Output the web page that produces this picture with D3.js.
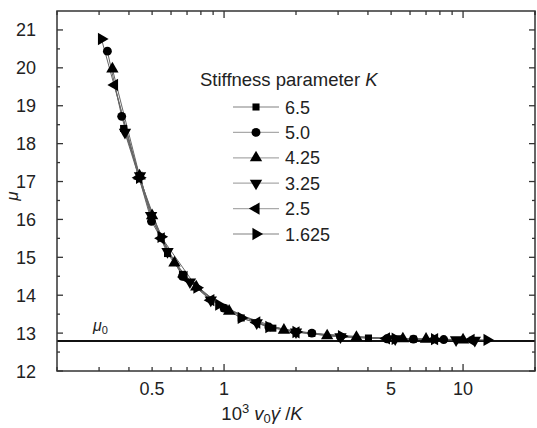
<!DOCTYPE html>
<html>
<head>
<meta charset="utf-8">
<script src="https://cdn.jsdelivr.net/npm/d3@7"></script>
<style>
  body { margin: 0; background: #fff; }
  svg { display: block; font-family: "Liberation Sans", Arial, sans-serif; }
</style>
</head>
<body>
<svg id="chart" width="537" height="428"></svg>
<script>
// Stiffness parameter K for each series
var kLabels = ["6.5", "5.0", "4.25", "3.25", "2.5", "1.625"];
var kShapes = ["square", "circle", "up", "down", "left", "right"];

// x = 10^3 v0 gamma-dot / K, y = mu
var x65 = [0.38, 0.497, 0.58, 0.67, 1.0, 1.18, 1.6, 2.33, 4.02, 6.2];
var y65 = [18.4, 16.05, 15.1, 14.55, 13.66, 13.4, 13.13, 12.99, 12.87, 12.84];
var x50 = [0.325, 0.373, 0.497, 0.67, 1.0, 1.54, 2.33, 3.07, 4.8, 6.2, 8.3];
var y50 = [20.44, 18.72, 15.95, 14.5, 13.66, 13.16, 13.0, 12.9, 12.85, 12.84, 12.83];
var x425 = [0.341, 0.443, 0.50, 0.62, 0.765, 1.05, 1.78, 2.7, 3.58, 5.6, 7.0, 10.0];
var y425 = [19.97, 17.15, 16.1, 14.85, 14.22, 13.58, 13.08, 12.93, 12.89, 12.85, 12.84, 12.82];
var x325 = [0.385, 0.445, 0.495, 0.58, 0.72, 0.88, 1.37, 2.0, 3.07, 5.2, 9.35, 11.2];
var y325 = [18.3, 17.15, 16.1, 15.15, 14.35, 13.87, 13.27, 13.03, 12.9, 12.85, 12.82, 12.81];
var x25 = [0.348, 0.44, 0.546, 0.68, 0.88, 1.37, 2.0, 4.78, 7.6, 10.8];
var y25 = [19.55, 17.1, 15.5, 14.48, 13.87, 13.28, 13.02, 12.86, 12.84, 12.82];
var x1625 = [0.307, 0.443, 0.545, 0.77, 0.95, 1.18, 1.54, 2.0, 3.1, 5.2, 7.6, 12.6];
var y1625 = [20.76, 17.1, 15.54, 14.2, 13.75, 13.4, 13.16, 13.03, 12.92, 12.85, 12.84, 12.82];

var seriesX = [x65, x50, x425, x325, x25, x1625];
var seriesY = [y65, y50, y425, y325, y25, y1625];

var mu0 = 12.79;
var xTickLabels = [0.5, 1, 5, 10];
var yTickValues = [12, 13, 14, 15, 16, 17, 18, 19, 20, 21];

var svg = d3.select("#chart");
var pLeft = 57, pRight = 535, pTop = 11, pBottom = 371;

var x = d3.scaleLog().domain([0.2, 20]).range([pLeft, pRight]);
var y = d3.scaleLinear().domain([12, 21.5]).range([pBottom, pTop]);

// tick lists for the log axis
var xTicks = [];
[0.1, 1, 10].forEach(function(dec) {
  for (var i = 1; i < 10; i++) {
    var v = +(dec * i).toPrecision(3);
    if (v >= 0.2 && v <= 20) xTicks.push(v);
  }
});
xTicks.push(20);
var yMinor = d3.range(12.5, 21.5, 1);

var axisColor = "#333";

function symbolPath(shape) {
  var type = shape === "square" ? d3.symbolSquare
    : shape === "circle" ? d3.symbolCircle : d3.symbolTriangle;
  var size = shape === "square" ? 50 : shape === "circle" ? 62 : 66;
  return d3.symbol().type(type).size(size)();
}
function rotation(shape) {
  return { down: 180, left: -90, right: 90 }[shape] || 0;
}

// mu0 reference line
svg.append("line")
  .attr("x1", pLeft).attr("x2", pRight)
  .attr("y1", y(mu0)).attr("y2", y(mu0))
  .attr("stroke", "#111").attr("stroke-width", 2);

var mu0Label = svg.append("text")
  .attr("x", 93).attr("y", 331)
  .attr("font-size", 16).attr("fill", "#222");
mu0Label.append("tspan").attr("font-style", "italic").text("μ");
mu0Label.append("tspan").attr("font-size", 11).attr("dy", 3).text("0");

// series
var line = d3.line().x(function(d) { return x(d[0]); }).y(function(d) { return y(d[1]); });

seriesX.forEach(function(xs, s) {
  var pts = xs.map(function(v, i) { return [v, seriesY[s][i]]; });
  svg.append("path")
    .datum(pts)
    .attr("d", line)
    .attr("fill", "none")
    .attr("stroke", "#666")
    .attr("stroke-width", 1);
});
seriesX.forEach(function(xs, s) {
  var pts = xs.map(function(v, i) { return [v, seriesY[s][i]]; });
  svg.append("g").selectAll("path")
    .data(pts)
    .enter().append("path")
    .attr("d", symbolPath(kShapes[s]))
    .attr("transform", function(d) {
      return "translate(" + x(d[0]) + "," + y(d[1]) + ") rotate(" + rotation(kShapes[s]) + ")";
    })
    .attr("fill", "#000");
});

// frame
svg.append("rect")
  .attr("x", pLeft).attr("y", pTop)
  .attr("width", pRight - pLeft).attr("height", pBottom - pTop)
  .attr("fill", "none").attr("stroke", axisColor).attr("stroke-width", 1.5);

// ticks, all pointing inward
var g = svg.append("g").attr("stroke", axisColor).attr("stroke-width", 1.3);
xTicks.forEach(function(v) {
  var len = (v === 1 || v === 10) ? 7 : 4;
  g.append("line").attr("x1", x(v)).attr("x2", x(v)).attr("y1", pBottom).attr("y2", pBottom - len);
  g.append("line").attr("x1", x(v)).attr("x2", x(v)).attr("y1", pTop).attr("y2", pTop + len);
});
yTickValues.forEach(function(v) {
  g.append("line").attr("x1", pLeft).attr("x2", pLeft + 6).attr("y1", y(v)).attr("y2", y(v));
  g.append("line").attr("x1", pRight).attr("x2", pRight - 6).attr("y1", y(v)).attr("y2", y(v));
});
yMinor.forEach(function(v) {
  g.append("line").attr("x1", pLeft).attr("x2", pLeft + 3).attr("y1", y(v)).attr("y2", y(v));
  g.append("line").attr("x1", pRight).attr("x2", pRight - 3).attr("y1", y(v)).attr("y2", y(v));
});

// tick labels
svg.append("g").selectAll("text")
  .data(xTickLabels)
  .enter().append("text")
  .attr("x", function(d) { return x(d); })
  .attr("y", 395)
  .attr("text-anchor", "middle")
  .attr("font-size", 18).attr("fill", "#222")
  .text(function(d) { return d; });

svg.append("g").selectAll("text")
  .data(yTickValues)
  .enter().append("text")
  .attr("x", 36)
  .attr("y", function(d) { return y(d) + 6.5; })
  .attr("text-anchor", "end")
  .attr("font-size", 18).attr("fill", "#222")
  .text(function(d) { return d; });

// axis titles
var xTitle = svg.append("text")
  .attr("x", 262).attr("y", 420)
  .attr("text-anchor", "middle")
  .attr("font-size", 18.5).attr("fill", "#222");
xTitle.append("tspan").text("10");
xTitle.append("tspan").attr("font-size", 13).attr("dy", -7).text("3");
xTitle.append("tspan").attr("dy", 7).text(" ");
xTitle.append("tspan").attr("font-style", "italic").text("v");
xTitle.append("tspan").attr("font-size", 13).attr("dy", 3).text("0");
xTitle.append("tspan").attr("dy", -3).attr("font-style", "italic").text("γ\u0307");
xTitle.append("tspan").text(" /");
xTitle.append("tspan").attr("font-style", "italic").text("K");

svg.append("text")
  .attr("transform", "translate(18,196) rotate(-90)")
  .attr("text-anchor", "middle")
  .attr("font-size", 17).attr("font-style", "italic").attr("fill", "#222")
  .text("μ");

// legend
var legTitle = svg.append("text")
  .attr("x", 200).attr("y", 86)
  .attr("font-size", 18.5).attr("fill", "#222");
legTitle.append("tspan").text("Stiffness parameter ");
legTitle.append("tspan").attr("font-style", "italic").text("K");

kLabels.forEach(function(lab, i) {
  var cy = 107 + i * 25.4;
  svg.append("line")
    .attr("x1", 233).attr("x2", 279).attr("y1", cy).attr("y2", cy)
    .attr("stroke", "#aaa").attr("stroke-width", 1.3);
  svg.append("path")
    .attr("d", symbolPath(kShapes[i]))
    .attr("transform", "translate(256," + cy + ") rotate(" + rotation(kShapes[i]) + ")")
    .attr("fill", "#000");
  svg.append("text")
    .attr("x", 285).attr("y", cy + 6.5)
    .attr("font-size", 18).attr("fill", "#222")
    .text(lab);
});
</script>
</body>
</html>
